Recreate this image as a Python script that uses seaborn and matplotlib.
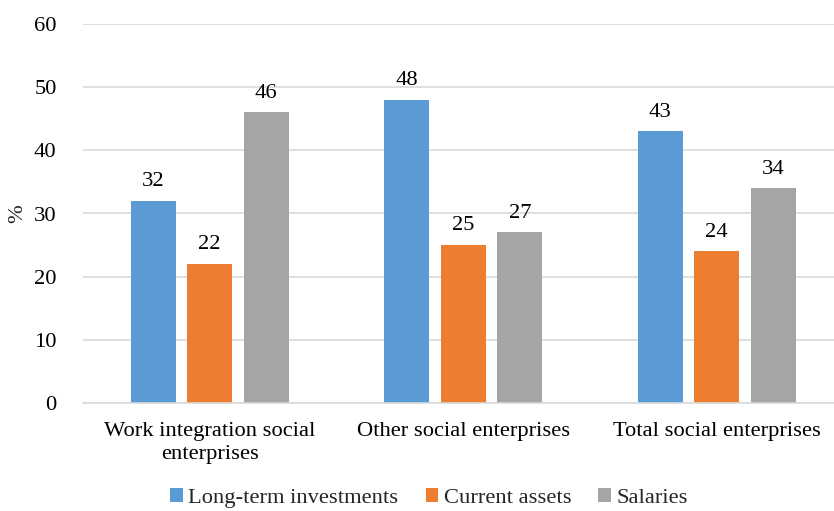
import matplotlib
matplotlib.use("Agg")
import matplotlib.pyplot as plt
import seaborn as sns
import pandas as pd

categories = ["Work integration social\nenterprises", "Other social enterprises", "Total social enterprises"]
series = ["Long-term investments", "Current assets", "Salaries"]
long_term = [32, 48, 43]
current_assets = [22, 25, 24]
salaries = [46, 27, 34]
colors = ["#5B9BD5", "#ED7D31", "#A5A5A5"]

rows = []
for s, vals in zip(series, [long_term, current_assets, salaries]):
    for c, v in zip(categories, vals):
        rows.append({"Category": c, "Series": s, "Value": v})
df = pd.DataFrame(rows)

sns.set_theme(style="white")
plt.rcParams["font.family"] = ["Liberation Serif", "DejaVu Serif"]

FS = 16.2

fig = plt.figure(figsize=(8.34, 5.11), dpi=100)
ax = fig.add_axes([83/834, 108/511, 760.5/834, 379/511])

sns.barplot(data=df, x="Category", y="Value", hue="Series", order=categories,
            hue_order=series, palette=colors, width=0.669, gap=0.2,
            ax=ax, saturation=1, legend=True, linewidth=0)

for cont in ax.containers:
    ax.bar_label(cont, fmt="%d", padding=7, fontsize=FS, color="#000000")

ax.set_ylim(0, 60)
ax.set_yticks(range(0, 61, 10))
ax.yaxis.grid(True, color="#D9D9D9", linewidth=1.2)
ax.set_axisbelow(True)
for s in ["top", "right", "left"]:
    ax.spines[s].set_visible(False)
ax.spines["bottom"].set_color("#D9D9D9")
ax.spines["bottom"].set_linewidth(1.2)
ax.tick_params(axis="both", length=0, labelsize=FS, colors="#000000")
ax.tick_params(axis="y", pad=19)
ax.tick_params(axis="x", pad=14)
ax.set_xlabel("")
ax.set_ylabel("%", fontsize=FS)
ax.yaxis.set_label_coords(-56/760.5, 0.5)
for lbl in ax.get_xticklabels():
    lbl.set_linespacing(1.25)

leg = ax.legend(loc="center", bbox_to_anchor=(429/834, 13/511), bbox_transform=fig.transFigure,
                ncol=3, frameon=False, fontsize=FS, handlelength=0.55, handleheight=0.55,
                handletextpad=0.25, columnspacing=1.2)

fig.savefig("out.png", dpi=100)
